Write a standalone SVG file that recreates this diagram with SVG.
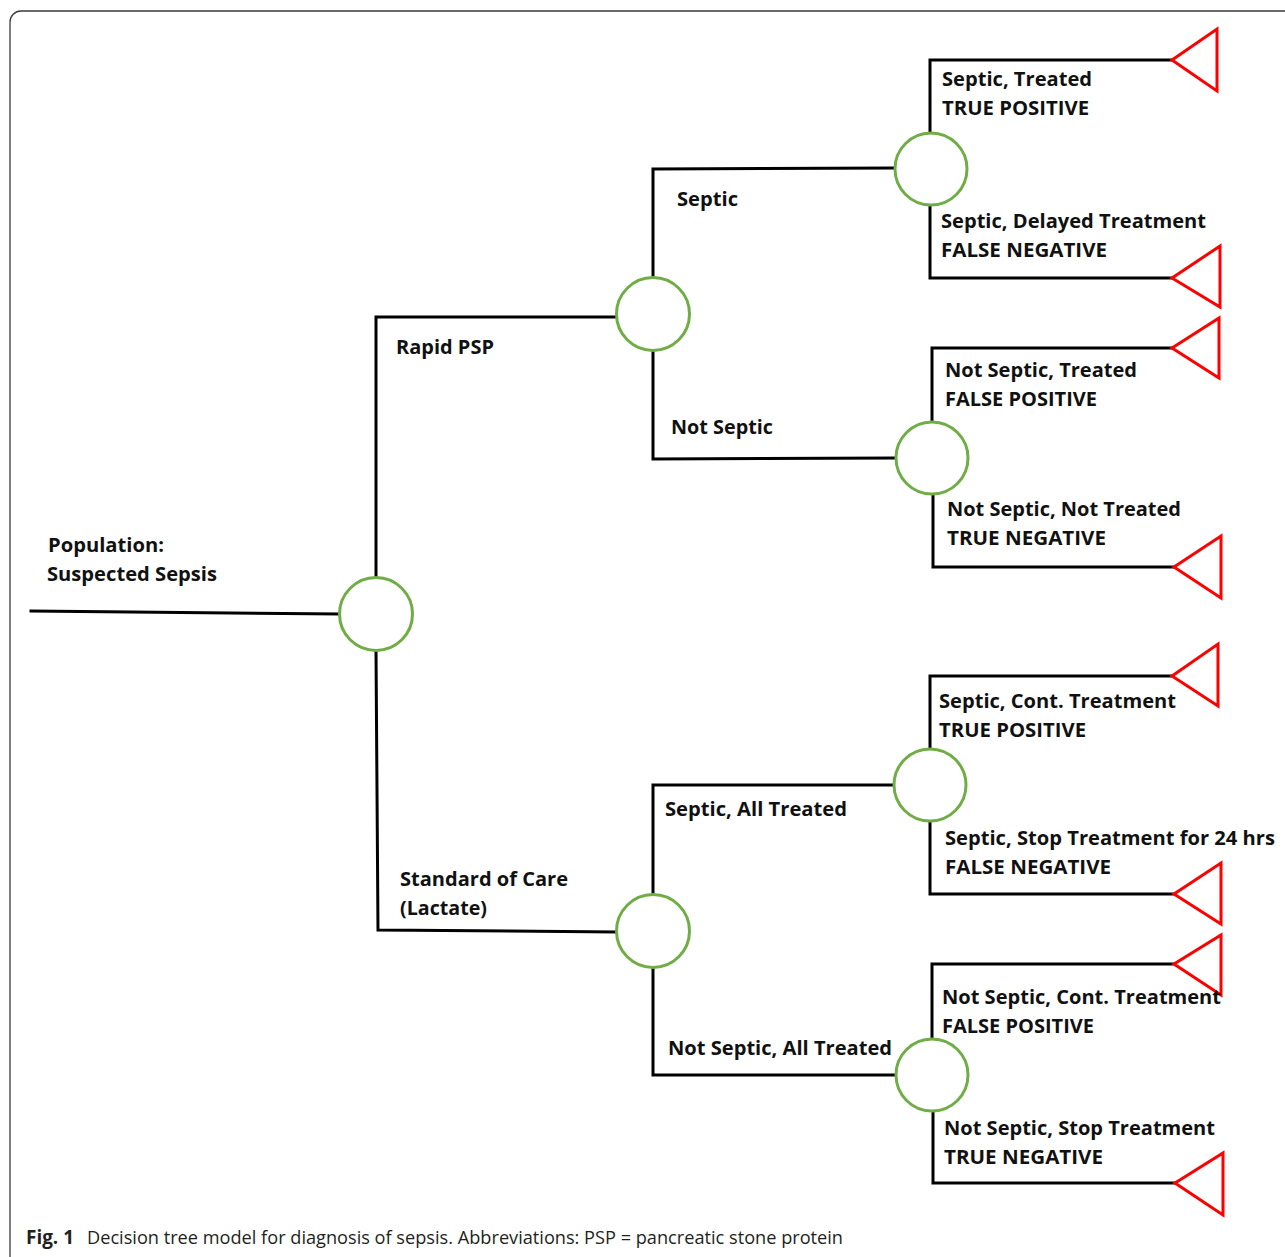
<svg xmlns="http://www.w3.org/2000/svg" width="1285" height="1257" viewBox="0 0 1285 1257">
<style>
.frame{fill:none;stroke:#3a3a3a;stroke-width:1.3}
.ln{fill:none;stroke:#000;stroke-width:3;stroke-linejoin:miter;stroke-linecap:square}
.ch{fill:#fff;stroke:#70AD47;stroke-width:3}
.tm{fill:#fff;stroke:#FF0000;stroke-width:3;stroke-linejoin:miter}
.lb{font-family:"Open Sans","Noto Sans",sans-serif;font-weight:700;font-size:19px;fill:#111}
.cap{font-family:"Open Sans","Liberation Sans",sans-serif;font-size:19px;fill:#231f20}
</style>
<rect class="frame" x="10" y="11" width="1300" height="1262" rx="11"/>
<g id="connectors">
<polyline class="ln" points="31,611 339,614"/>
<polyline class="ln" points="376,578 376,317 616,317"/>
<polyline class="ln" points="376,650 378,930 616,932"/>
<polyline class="ln" points="653,277 653,169 895,168"/>
<polyline class="ln" points="653,351 653,459 896,458"/>
<polyline class="ln" points="653,895 653,785 894,785"/>
<polyline class="ln" points="653,967 653,1075 896,1075"/>
<polyline class="ln" points="930,133 930,60 1172,60"/>
<polyline class="ln" points="930,205 930,278 1172,278"/>
<polyline class="ln" points="932,423 932,348 1172,348"/>
<polyline class="ln" points="933,494 933,567 1174,567"/>
<polyline class="ln" points="930,749 930,676 1172,676"/>
<polyline class="ln" points="930,821 930,894 1174,894"/>
<polyline class="ln" points="932,1039 932,964 1174,964"/>
<polyline class="ln" points="933,1111 933,1183 1175,1183"/>
</g>
<g id="root">
<circle class="ch" cx="376" cy="614" r="36.5"/>
<text class="lb" x="48" y="552" textLength="116" lengthAdjust="spacingAndGlyphs">Population:</text>
<text class="lb" x="47" y="581" textLength="170" lengthAdjust="spacingAndGlyphs">Suspected Sepsis</text>
</g>
<g id="rapid-psp">
<circle class="ch" cx="653" cy="314" r="36.5"/>
<text class="lb" x="396" y="354" textLength="98" lengthAdjust="spacingAndGlyphs">Rapid PSP</text>
</g>
<g id="standard-of-care">
<circle class="ch" cx="653" cy="931" r="36.5"/>
<text class="lb" x="400" y="886" textLength="168" lengthAdjust="spacingAndGlyphs">Standard of Care</text>
<text class="lb" x="400" y="915" textLength="87" lengthAdjust="spacingAndGlyphs">(Lactate)</text>
</g>
<g id="psp-septic">
<circle class="ch" cx="931" cy="169" r="36"/>
<text class="lb" x="677" y="206" textLength="61" lengthAdjust="spacingAndGlyphs">Septic</text>
</g>
<g id="psp-not-septic">
<circle class="ch" cx="932" cy="458" r="36"/>
<text class="lb" x="671" y="434" textLength="102" lengthAdjust="spacingAndGlyphs">Not Septic</text>
</g>
<g id="soc-septic">
<circle class="ch" cx="930" cy="785" r="36"/>
<text class="lb" x="665" y="816" textLength="182" lengthAdjust="spacingAndGlyphs">Septic, All Treated</text>
</g>
<g id="soc-not-septic">
<circle class="ch" cx="932" cy="1075" r="36"/>
<text class="lb" x="668" y="1055" textLength="224" lengthAdjust="spacingAndGlyphs">Not Septic, All Treated</text>
</g>
<g id="t1">
<polygon class="tm" points="1172,60 1217,29 1217,91"/>
<text class="lb" x="942" y="86" textLength="150" lengthAdjust="spacingAndGlyphs">Septic, Treated</text>
<text class="lb" x="942" y="115" textLength="147" lengthAdjust="spacingAndGlyphs">TRUE POSITIVE</text>
</g>
<g id="t2">
<polygon class="tm" points="1172,278 1220,246 1220,307"/>
<text class="lb" x="941" y="228" textLength="265" lengthAdjust="spacingAndGlyphs">Septic, Delayed Treatment</text>
<text class="lb" x="941" y="257" textLength="166" lengthAdjust="spacingAndGlyphs">FALSE NEGATIVE</text>
</g>
<g id="t3">
<polygon class="tm" points="1172,348 1219,318 1219,378"/>
<text class="lb" x="945" y="377" textLength="192" lengthAdjust="spacingAndGlyphs">Not Septic, Treated</text>
<text class="lb" x="945" y="406" textLength="152" lengthAdjust="spacingAndGlyphs">FALSE POSITIVE</text>
</g>
<g id="t4">
<polygon class="tm" points="1174,567 1221,536 1221,598"/>
<text class="lb" x="947" y="516" textLength="234" lengthAdjust="spacingAndGlyphs">Not Septic, Not Treated</text>
<text class="lb" x="947" y="545" textLength="159" lengthAdjust="spacingAndGlyphs">TRUE NEGATIVE</text>
</g>
<g id="t5">
<polygon class="tm" points="1172,676 1218,644 1218,706"/>
<text class="lb" x="939" y="708" textLength="237" lengthAdjust="spacingAndGlyphs">Septic, Cont. Treatment</text>
<text class="lb" x="939" y="737" textLength="147" lengthAdjust="spacingAndGlyphs">TRUE POSITIVE</text>
</g>
<g id="t6">
<polygon class="tm" points="1174,894 1221,863 1221,924"/>
<text class="lb" x="945" y="845" textLength="330" lengthAdjust="spacingAndGlyphs">Septic, Stop Treatment for 24 hrs</text>
<text class="lb" x="945" y="874" textLength="166" lengthAdjust="spacingAndGlyphs">FALSE NEGATIVE</text>
</g>
<g id="t7">
<polygon class="tm" points="1174,964 1221,935 1221,995"/>
<text class="lb" x="942" y="1004" textLength="279" lengthAdjust="spacingAndGlyphs">Not Septic, Cont. Treatment</text>
<text class="lb" x="942" y="1033" textLength="152" lengthAdjust="spacingAndGlyphs">FALSE POSITIVE</text>
</g>
<g id="t8">
<polygon class="tm" points="1175,1183 1223,1153 1223,1215"/>
<text class="lb" x="944" y="1135" textLength="271" lengthAdjust="spacingAndGlyphs">Not Septic, Stop Treatment</text>
<text class="lb" x="944" y="1164" textLength="159" lengthAdjust="spacingAndGlyphs">TRUE NEGATIVE</text>
</g>
<g id="caption">
<text class="cap" x="26" y="1244" font-weight="700" textLength="48" lengthAdjust="spacingAndGlyphs">Fig. 1</text>
<text class="cap" x="87" y="1244" textLength="756" lengthAdjust="spacingAndGlyphs">Decision tree model for diagnosis of sepsis. Abbreviations: PSP = pancreatic stone protein</text>
</g>
</svg>
